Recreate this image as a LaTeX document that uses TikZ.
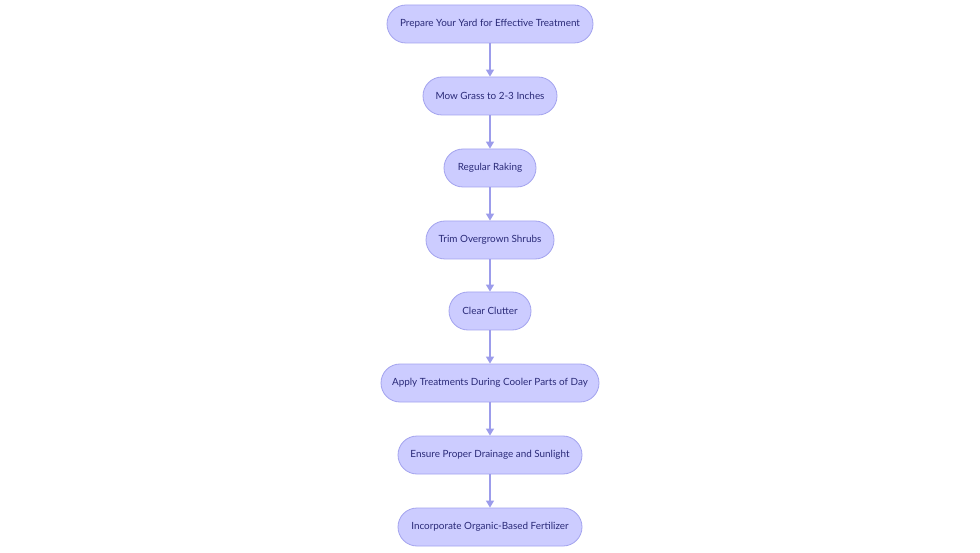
\documentclass[tikz,border=0pt]{standalone}
\usepackage{fontspec}
\setmainfont{Lato}
\usetikzlibrary{arrows.meta}
\definecolor{boxfill}{HTML}{CCCCFF}
\definecolor{boxdraw}{HTML}{A3A3EE}
\definecolor{txt}{HTML}{2A2A78}
\definecolor{arr}{HTML}{9C9CEB}
\begin{document}
\begin{tikzpicture}[x=1pt,y=-1pt,
  stepbox/.style={draw=boxdraw, fill=boxfill, line width=0.8pt, rounded corners=19pt,
    minimum height=38pt, inner sep=0pt, text=txt, font=\fontsize{9.9}{12}\selectfont},
  conn/.style={draw=arr, line width=1.2pt, -{Triangle[length=7pt,width=8pt]}}]
\useasboundingbox[fill=white] (0,0) rectangle (980,553);
\node[stepbox, minimum width=206pt] (n1) at (490,24) {Prepare Your Yard for Effective Treatment};
\node[stepbox, minimum width=134pt] (n2) at (490,96) {Mow Grass to 2-3 Inches};
\node[stepbox, minimum width=92pt] (n3) at (490,168) {Regular Raking};
\node[stepbox, minimum width=128pt] (n4) at (490,240) {Trim Overgrown Shrubs};
\node[stepbox, minimum width=82pt] (n5) at (490,311) {Clear Clutter};
\node[stepbox, minimum width=218pt] (n6) at (490,383) {Apply Treatments During Cooler Parts of Day};
\node[stepbox, minimum width=184pt] (n7) at (490,455) {Ensure Proper Drainage and Sunlight};
\node[stepbox, minimum width=184pt] (n8) at (490,527) {Incorporate Organic-Based Fertilizer};
\draw[conn] (n1) -- (n2);
\draw[conn] (n2) -- (n3);
\draw[conn] (n3) -- (n4);
\draw[conn] (n4) -- (n5);
\draw[conn] (n5) -- (n6);
\draw[conn] (n6) -- (n7);
\draw[conn] (n7) -- (n8);
\end{tikzpicture}
\end{document}
